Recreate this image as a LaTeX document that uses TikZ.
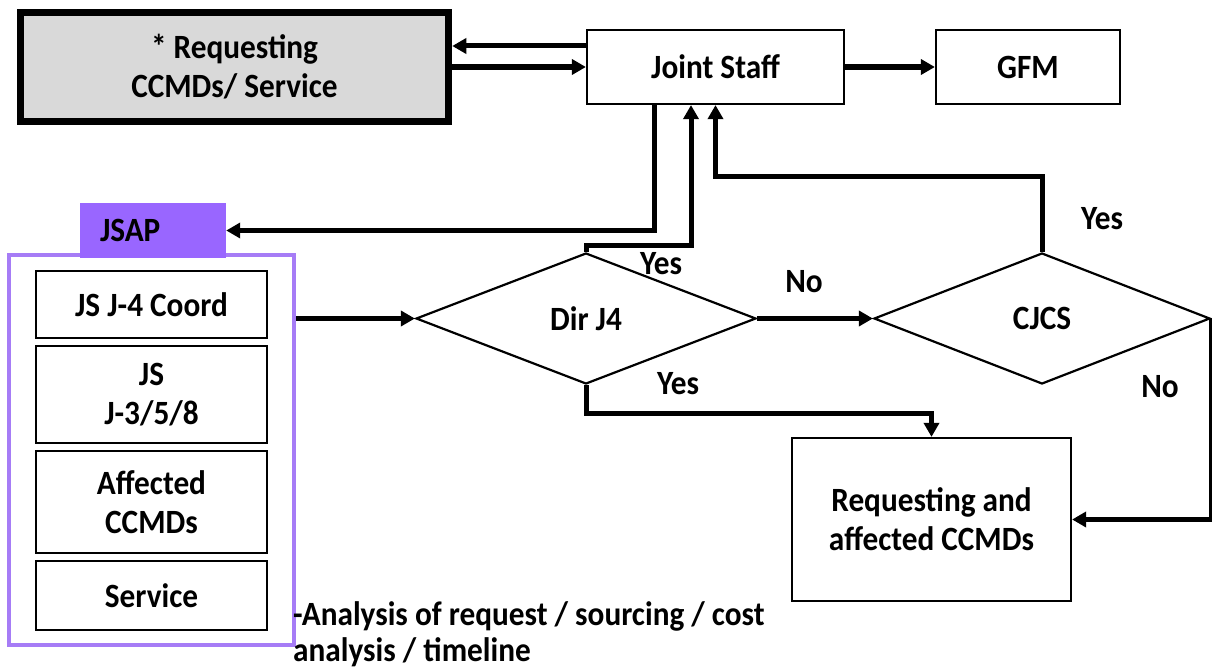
\documentclass[tikz,border=0pt]{standalone}
\usepackage{fontspec}
\setmainfont{Carlito}[FakeStretch=0.92]
\usetikzlibrary{arrows.meta,shapes.geometric}
\definecolor{boxgray}{HTML}{D9D9D9}
\definecolor{jsapfill}{HTML}{9966FF}
\definecolor{jsapline}{HTML}{A67CF6}
\begin{document}
\begin{tikzpicture}[x=1pt,y=-1pt,
  every node/.style={font=\fontsize{34}{39}\selectfont\bfseries, align=center},
  arr/.style={line width=5pt, -{Triangle[length=14pt,width=15pt]}},
  plainbox/.style={draw, line width=2.2pt, inner sep=0pt},
  inbox/.style={draw, line width=2.6pt, inner sep=0pt, minimum width=231pt},
  dia/.style={diamond, draw, line width=2.2pt, inner sep=0pt, aspect=2.6},
  lbl/.style={inner sep=0pt}
]
\useasboundingbox (0,0) rectangle (1212,669);
% top row
\node[draw, line width=7.5pt, fill=boxgray, inner sep=0pt, minimum width=428pt, minimum height=109pt] (req) at (234.5,67) {* Requesting\\CCMDs/ Service};
\node[plainbox, minimum width=257pt, minimum height=74pt] (js) at (715.5,67) {Joint Staff};
\node[plainbox, minimum width=184pt, minimum height=74pt] (gfm) at (1028,67) {GFM};
% JSAP group
\node[draw=jsapline, line width=4pt, minimum width=285pt, minimum height=390pt] (frame) at (151.5,450) {};
\node[fill=jsapfill, minimum width=146pt, minimum height=55pt, text width=106pt, inner xsep=20pt, inner ysep=0pt, align=left] (jsap) at (153,230.5) {JSAP};
\node[inbox, minimum height=67pt] (b1) at (151.5,304.5) {JS J-4 Coord};
\node[inbox, minimum height=97pt] (b2) at (151.5,394.5) {JS\\J-3/5/8};
\node[inbox, minimum height=102pt] (b3) at (151.5,502) {Affected\\CCMDs};
\node[inbox, minimum height=69pt] (b4) at (151.5,595.5) {Service};
% decisions
\node[dia, minimum width=340pt, minimum height=131pt] (dir) at (586,318.5) {Dir J4};
\node[dia, minimum width=336pt, minimum height=131pt] (cjcs) at (1042,318.5) {CJCS};
\node[plainbox, minimum width=279pt, minimum height=163pt] (req2) at (931.5,519.5) {Requesting and\\affected CCMDs};
% labels
\node[lbl] (y1) at (661,264) {Yes};
\node[lbl] (n1) at (804,282) {No};
\node[lbl] (y2) at (678,384) {Yes};
\node[lbl] (n2) at (1160,387) {No};
\node[lbl] (y3) at (1102,219) {Yes};
\node[anchor=north west, inner sep=0pt, align=left, font=\fontsize{34}{36.5}\selectfont\bfseries] (ana) at (293,601) {-Analysis of request / sourcing / cost\\analysis / timeline};
% connectors
\draw[arr] ([yshift=21pt]js.west) -- ([yshift=21pt]req.east);
\draw[arr] (req.east) -- (js.west);
\draw[arr] (js.east) -- (gfm.west);
\draw[arr] ([xshift=-61.5pt]js.south) |- (jsap.east);
\draw[arr] (dir.north) -- ++(0,-6) -| ([xshift=-24.5pt]js.south);
\draw[arr] (cjcs.north) -- ++(0,-75) -| (js.south);
\draw[arr] (frame.east |- dir.west) -- (dir.west);
\draw[arr] (dir.east) -- (cjcs.west);
\draw[arr] (dir.south) -- ++(0,28) -| (req2.north);
\draw[arr] (cjcs.east) |- (req2.east);
\end{tikzpicture}
\end{document}
